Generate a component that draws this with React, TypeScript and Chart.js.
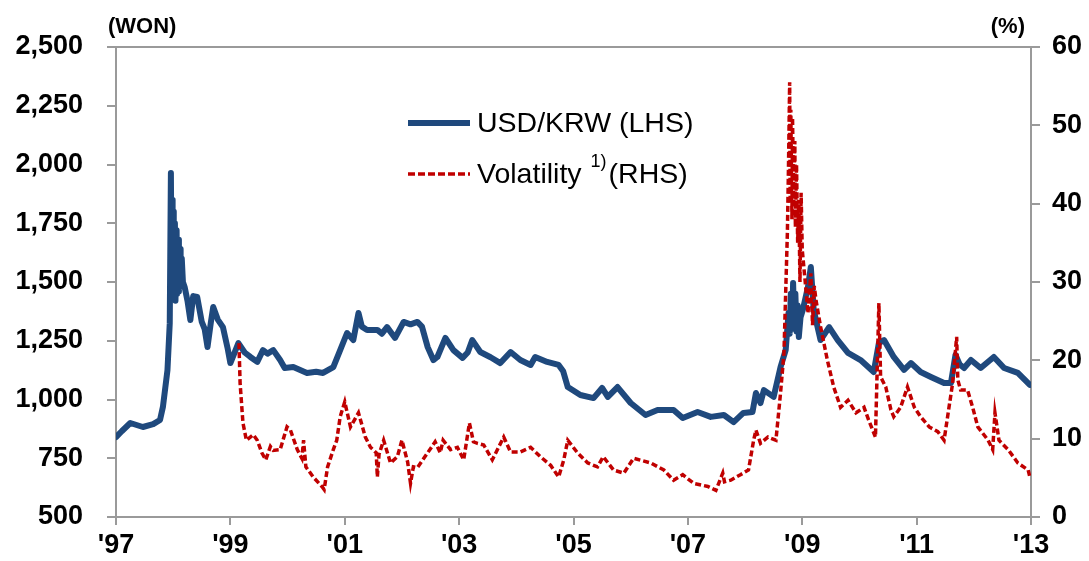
import React, { useEffect, useRef } from "react";
import { Chart, registerables } from "chart.js";

Chart.register(...registerables);

// ---- Data ----
const usdYears: number[] = [
  1997.0, 1997.1, 1997.25, 1997.47, 1997.65, 1997.77, 1997.82, 1997.9, 1997.94, 1997.96,
  1997.97, 1997.98, 1997.99, 1998.0, 1998.01, 1998.03, 1998.04, 1998.06, 1998.07, 1998.09,
  1998.1, 1998.12, 1998.13, 1998.15, 1998.17, 1998.2,
  1998.25, 1998.3, 1998.35, 1998.42, 1998.5, 1998.55, 1998.6, 1998.66, 1998.7, 1998.78,
  1998.87, 1998.95, 1999.0, 1999.14, 1999.25, 1999.35, 1999.47, 1999.57, 1999.65, 1999.75,
  1999.87, 1999.95, 2000.1, 2000.34, 2000.5, 2000.62, 2000.8, 2000.92, 2001.04, 2001.15,
  2001.24, 2001.3, 2001.39, 2001.57, 2001.65, 2001.74, 2001.88, 2002.03, 2002.15, 2002.27,
  2002.35, 2002.45, 2002.55, 2002.62, 2002.76, 2002.9, 2003.06, 2003.15, 2003.23, 2003.37,
  2003.55, 2003.72, 2003.9, 2004.07, 2004.25, 2004.33, 2004.54, 2004.74, 2004.82, 2004.9,
  2005.12, 2005.35, 2005.5, 2005.6, 2005.77, 2006.0, 2006.26, 2006.47, 2006.75, 2006.91,
  2007.17, 2007.4, 2007.63, 2007.8, 2007.97, 2008.13, 2008.19, 2008.27, 2008.33, 2008.5,
  2008.62, 2008.71, 2008.76, 2008.78, 2008.8, 2008.82, 2008.84, 2008.86, 2008.88, 2008.9,
  2008.92, 2008.94, 2008.97, 2009.01, 2009.1, 2009.15,
  2009.2, 2009.32, 2009.47, 2009.62, 2009.8, 2010.02, 2010.25, 2010.34, 2010.43, 2010.6,
  2010.78, 2010.9, 2011.07, 2011.25, 2011.48, 2011.6, 2011.68, 2011.75, 2011.83, 2011.95,
  2012.12, 2012.35, 2012.53, 2012.77, 2012.98,
];
const usdKrw: number[] = [
  840, 865, 900, 883, 895, 913, 968, 1125, 1325, 1964,
  1550, 1850, 1450, 1800, 1480, 1750, 1420, 1720, 1450, 1680,
  1460, 1640, 1480, 1600, 1500, 1479,
  1420, 1338, 1440, 1436, 1330, 1300, 1223, 1330, 1394, 1340,
  1308, 1220, 1155, 1240, 1200, 1181, 1160, 1210, 1195, 1210,
  1168, 1134, 1138, 1113, 1118, 1113, 1138, 1210, 1283, 1253,
  1368, 1310, 1296, 1296, 1280, 1308, 1262, 1330, 1320, 1330,
  1310, 1223, 1168, 1181, 1262, 1210, 1177, 1200, 1253, 1202,
  1180, 1155, 1202, 1168, 1147, 1181, 1160, 1147, 1120, 1053,
  1019, 1006, 1049, 1011, 1053, 985, 934, 955, 955, 921,
  947, 926, 934, 904, 943, 947, 1028, 985, 1040, 1011,
  1138, 1210, 1368, 1280, 1450, 1300, 1496, 1320, 1450, 1290,
  1400, 1266, 1350, 1381, 1479, 1564,
  1381, 1253, 1308, 1253, 1198, 1168, 1117, 1240, 1253, 1181,
  1126, 1155, 1117, 1096, 1070, 1070, 1190, 1150, 1134, 1168,
  1134, 1181, 1134, 1113, 1062,
];

const volYears: number[] = [
  1999.15, 1999.17, 1999.22, 1999.28, 1999.4, 1999.47, 1999.55, 1999.62, 1999.7, 1999.75,
  1999.87, 1999.99, 2000.05, 2000.17, 2000.25, 2000.28, 2000.32, 2000.45, 2000.6, 2000.64,
  2000.7, 2000.8, 2000.86, 2000.92, 2001.0, 2001.1, 2001.24, 2001.36, 2001.45, 2001.55,
  2001.57, 2001.6, 2001.68, 2001.8, 2001.92, 2002.0, 2002.1, 2002.15, 2002.2, 2002.27,
  2002.45, 2002.58, 2002.67, 2002.72, 2002.85, 2002.97, 2003.08, 2003.18, 2003.25, 2003.32,
  2003.43, 2003.58, 2003.78, 2003.9, 2004.07, 2004.25, 2004.42, 2004.6, 2004.74, 2004.83,
  2004.9, 2005.07, 2005.25, 2005.42, 2005.52, 2005.7, 2005.88, 2006.05, 2006.35, 2006.58,
  2006.75, 2006.91, 2007.1, 2007.35, 2007.49, 2007.61, 2007.64, 2007.75, 2007.92, 2008.06,
  2008.15, 2008.19, 2008.27, 2008.4, 2008.54, 2008.62, 2008.68, 2008.74, 2008.76, 2008.78,
  2008.79, 2008.8, 2008.82, 2008.83, 2008.85, 2008.87, 2008.88, 2008.9, 2008.92, 2008.94,
  2008.96, 2008.98, 2009.0, 2009.07, 2009.1, 2009.15, 2009.18, 2009.21, 2009.24,
  2009.32, 2009.44, 2009.55, 2009.67, 2009.8, 2009.94, 2010.08, 2010.16, 2010.28, 2010.34,
  2010.37, 2010.46, 2010.55, 2010.6, 2010.72, 2010.84, 2010.96, 2011.07, 2011.22, 2011.37,
  2011.48, 2011.56, 2011.63, 2011.7, 2011.72, 2011.77, 2011.89, 2011.98, 2012.07, 2012.25,
  2012.33, 2012.37, 2012.44, 2012.6, 2012.77, 2012.95, 2012.98,
];
const volatility: number[] = [
  22.2, 17.1, 12.0, 9.8, 10.5, 9.8, 8.2, 7.3, 9.0, 8.5,
  8.6, 11.5, 11.1, 8.6, 7.5, 9.8, 6.4, 5.1, 3.9, 3.5,
  6.4, 8.6, 9.8, 12.8, 14.7, 11.5, 13.3, 10.2, 8.9, 8.2,
  5.1, 8.0, 9.8, 6.9, 7.7, 9.8, 7.0, 4.3, 6.4, 6.3,
  8.2, 9.6, 8.2, 9.8, 8.6, 8.9, 7.3, 12.0, 9.6, 9.4,
  9.2, 7.3, 10.2, 8.3, 8.3, 8.9, 7.7, 6.6, 5.1, 7.3,
  9.8, 8.2, 6.9, 6.4, 7.7, 6.0, 5.6, 7.5, 6.9, 6.0,
  4.7, 5.4, 4.3, 3.9, 3.4, 5.6, 4.5, 4.7, 5.4, 6.0,
  9.8, 11.1, 9.4, 10.2, 9.8, 15.8, 20.9, 36.3, 45, 55.5,
  40, 52, 38, 51, 40, 48, 37, 45, 35, 40.5,
  30, 41.4, 34.1, 28.6, 26.0, 31.1, 24.5, 29.5, 27.7,
  24.3, 20.0, 16.6, 14.0, 14.9, 13.3, 14.0, 12.4, 10.2, 27.3,
  17.9, 16.6, 13.7, 12.8, 14.0, 16.6, 14.0, 12.8, 11.5, 10.9,
  9.8, 13.7, 17.1, 23.0, 17.5, 16.2, 16.2, 14.0, 11.5, 9.8,
  8.6, 13.3, 9.8, 8.6, 6.9, 6.0, 5.1,
];

const leftTicks = { min: 500, max: 2500, step: 250 };
const rightTicks = { min: 0, max: 60, step: 10 };
const xTicks = { min: 1997, max: 2013, step: 2 };

const seriesNames = ["USD/KRW (LHS)", "Volatility", "1)", "(RHS)"];
const leftUnit = "(WON)";
const rightUnit = "(%)";

const BLUE = "#1F497D";
const RED = "#C00000";
const AXIS = "#9a9a9a";
const FONT = '"Liberation Sans", Arial, sans-serif';

const overlayPlugin = {
  id: "overlay",
  afterDraw(chart: any) {
    const ctx = chart.ctx;
    const a = chart.chartArea;
    ctx.save();
    // top border
    ctx.strokeStyle = AXIS;
    ctx.lineWidth = 2;
    ctx.beginPath();
    ctx.moveTo(a.left - 9, a.top);
    ctx.lineTo(a.right + 9, a.top);
    ctx.stroke();

    // unit labels
    ctx.fillStyle = "#000";
    ctx.font = `bold 22px ${FONT}`;
    ctx.textBaseline = "middle";
    ctx.textAlign = "left";
    ctx.fillText(leftUnit, a.left - 8, 27);
    ctx.textAlign = "right";
    ctx.fillText(rightUnit, a.right - 6, 27);

    // legend
    const lx0 = 408;
    const lx1 = 470;
    const tx = 477;
    const y1 = 123;
    const y2 = 174;
    ctx.lineCap = "butt";
    ctx.strokeStyle = BLUE;
    ctx.lineWidth = 6;
    ctx.setLineDash([]);
    ctx.beginPath();
    ctx.moveTo(lx0, y1);
    ctx.lineTo(lx1, y1);
    ctx.stroke();

    ctx.strokeStyle = RED;
    ctx.lineWidth = 3.5;
    ctx.setLineDash([7, 3]);
    ctx.beginPath();
    ctx.moveTo(lx0, y2);
    ctx.lineTo(lx1, y2);
    ctx.stroke();
    ctx.setLineDash([]);

    ctx.textAlign = "left";
    ctx.font = `28.5px ${FONT}`;
    ctx.fillStyle = "#000";
    ctx.fillText(seriesNames[0], tx, y1 + 1);
    ctx.fillText(seriesNames[1], tx, y2 + 1);
    let x = tx + ctx.measureText(seriesNames[1]).width + 9;
    ctx.font = `18px ${FONT}`;
    ctx.fillText(seriesNames[2], x, y2 - 12);
    x += ctx.measureText(seriesNames[2]).width + 2;
    ctx.font = `28.5px ${FONT}`;
    ctx.fillText(seriesNames[3], x, y2 + 1);
    ctx.restore();
  },
};

export default function App() {
  const ref = useRef<HTMLCanvasElement | null>(null);

  useEffect(() => {
    document.body.style.margin = "0";
    const canvas = ref.current;
    if (!canvas) return;
    const usdData = usdYears.map((x, i) => ({ x, y: usdKrw[i] }));
    const volData = volYears.map((x, i) => ({ x, y: volatility[i] }));
    const tickFont = { family: FONT, size: 27, weight: "bold" as const };

    const chart = new Chart(canvas, {
      type: "line",
      data: {
        datasets: [
          {
            label: "Volatility (RHS)",
            data: volData,
            yAxisID: "yR",
            borderColor: RED,
            borderWidth: 3.5,
            borderDash: [6, 3],
            pointRadius: 0,
            tension: 0,
            order: 0,
          },
          {
            label: "USD/KRW (LHS)",
            data: usdData,
            yAxisID: "yL",
            borderColor: BLUE,
            borderWidth: 6,
            pointRadius: 0,
            tension: 0,
            borderJoinStyle: "round",
            borderCapStyle: "round",
            order: 1,
          },
        ],
      },
      options: {
        responsive: false,
        animation: false,
        layout: { padding: { top: 47, left: 0, right: 0, bottom: 0 } },
        plugins: { legend: { display: false }, tooltip: { enabled: false } },
        scales: {
          x: {
            type: "linear",
            min: xTicks.min,
            max: xTicks.max,
            afterFit: (s: any) => {
              s.height = 44;
            },
            ticks: {
              stepSize: xTicks.step,
              color: "#000",
              font: tickFont,
              padding: 4,
              maxRotation: 0,
              callback: (v: any) => "'" + String(v).slice(2),
            },
            grid: {
              drawOnChartArea: false,
              drawTicks: true,
              tickLength: 8,
              color: AXIS,
              lineWidth: 2,
            },
            border: { color: AXIS, width: 2 },
          },
          yL: {
            type: "linear",
            position: "left",
            min: leftTicks.min,
            max: leftTicks.max,
            afterFit: (s: any) => {
              s.width = 116;
            },
            ticks: {
              stepSize: leftTicks.step,
              color: "#000",
              font: tickFont,
              padding: 24,
              callback: (v: any) => Number(v).toLocaleString("en-US"),
            },
            grid: {
              drawOnChartArea: false,
              tickLength: 9,
              color: AXIS,
              lineWidth: 2,
            },
            border: { color: AXIS, width: 2 },
          },
          yR: {
            type: "linear",
            position: "right",
            min: rightTicks.min,
            max: rightTicks.max,
            afterFit: (s: any) => {
              s.width = 58;
            },
            ticks: {
              stepSize: rightTicks.step,
              color: "#000",
              font: tickFont,
              padding: 12,
            },
            grid: {
              drawOnChartArea: false,
              tickLength: 9,
              color: AXIS,
              lineWidth: 2,
            },
            border: { color: AXIS, width: 2 },
          },
        },
      },
      plugins: [overlayPlugin],
    } as any);
    return () => chart.destroy();
  }, []);

  return (
    <div style={{ position: "absolute", left: 0, top: 0, width: 1089, height: 561, background: "#fff" }}>
      <canvas ref={ref} width={1089} height={561} style={{ display: "block" }} />
    </div>
  );
}
